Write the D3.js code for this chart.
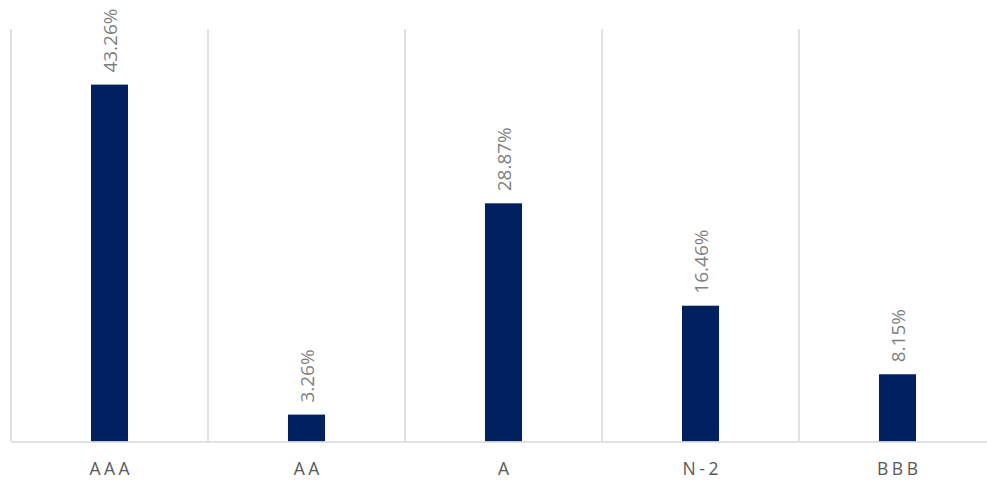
<!DOCTYPE html>
<html>
<head>
<meta charset="utf-8">
<script src="https://cdn.jsdelivr.net/npm/d3@7"></script>
<style>
  body { margin: 0; background: #fff; }
  svg { display: block; }
</style>
</head>
<body>
<svg id="chart"></svg>
<script>
// ratings and their share
var categories = ['AAA', 'AA', 'A', 'N-2', 'BBB']
var values = [43.26, 3.26, 28.87, 16.46, 8.15]
var yMax = 50

var width = 987
var height = 480
var margin = {top: 29, left: 11, bottom: 38.5}
var plotRight = 996 // last band runs past the window edge

var svg = d3.select('#chart')
    .attr('width', width)
    .attr('height', height)

var x = d3.scaleBand()
    .domain(categories)
    .range([margin.left, plotRight])

var y = d3.scaleLinear()
    .domain([0, yMax])
    .range([height - margin.bottom, margin.top])

// vertical separators between categories
var edges = categories.map(function (d) { return x(d) }).concat([plotRight])
svg.selectAll('.sep')
    .data(edges)
  .enter().append('line')
    .attr('class', 'sep')
    .attr('x1', function (d) { return d })
    .attr('x2', function (d) { return d })
    .attr('y1', y(yMax))
    .attr('y2', y(0))
    .attr('stroke', '#d9d9d9')
    .attr('stroke-width', 1.5)

// bars
var barW = x.bandwidth() * 0.188
svg.selectAll('.bar')
    .data(values)
  .enter().append('rect')
    .attr('class', 'bar')
    .attr('fill', '#002060')
    .attr('x', function (d, i) { return x(categories[i]) + x.bandwidth() / 2 - barW / 2 })
    .attr('width', barW)
    .attr('y', function (d) { return y(d) })
    .attr('height', function (d) { return y(0) - y(d) })

// x axis
var axis = svg.append('g')
    .attr('transform', 'translate(0,' + y(0) + ')')
    .call(d3.axisBottom(x).tickSize(0).tickPadding(21))
axis.select('.domain')
    .attr('stroke', '#d9d9d9')
    .attr('stroke-width', 1.5)
axis.selectAll('text')
    .attr('fill', '#595959')
    .attr('dx', 1.75)
    .style('font-family', '"Open Sans", sans-serif')
    .style('font-size', '17.5px')
    .style('letter-spacing', '3.5px')

// rotated value labels
svg.selectAll('.bar-label')
    .data(values)
  .enter().append('text')
    .attr('class', 'bar-label')
    .attr('transform', function (d, i) {
      var cx = x(categories[i]) + x.bandwidth() / 2
      return 'translate(' + (cx + 7) + ',' + (y(d) - 12) + ') rotate(-90)'
    })
    .attr('fill', '#7f7f7f')
    .style('font-family', '"Open Sans", sans-serif')
    .style('font-size', '19px')
    .text(function (d) { return d.toFixed(2) + '%' })
</script>
</body>
</html>
